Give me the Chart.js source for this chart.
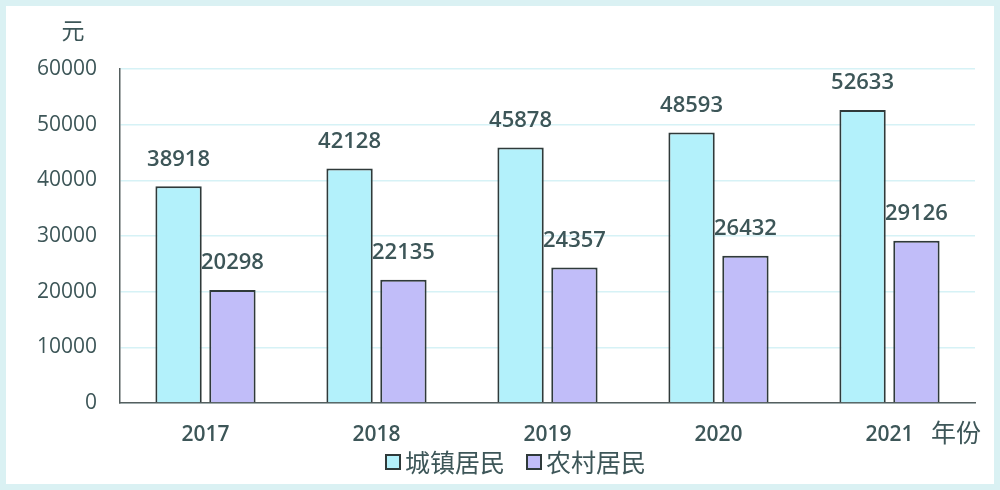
<!DOCTYPE html>
<html>
<head>
<meta charset="utf-8">
<script src="https://cdn.jsdelivr.net/npm/chart.js@4"></script>
<style>
  html, body { margin: 0; padding: 0; background: #fff; }
  #wrap { width: 1000px; height: 490px; }
</style>
</head>
<body>
<div id="wrap"><canvas id="chart" width="1000" height="490"></canvas></div>
<script>
// 城镇 / 农村 居民人均可支配收入, 2017-2021
const years = ['2017', '2018', '2019', '2020', '2021'];
const urban = [38918, 42128, 45878, 48593, 52633];
const rural = [20298, 22135, 24357, 26432, 29126];
const seriesNames = ['城镇居民', '农村居民'];
const yTicksMax = 60000;
const yTicksStep = 10000;

const textColor = '#3d5658';
const edgeColor = '#2f3a3a';
const numFont = '"Open Sans", "DejaVu Sans", sans-serif';
const cjkFont = '"Noto Sans CJK SC", sans-serif';

// frame, unit labels, legend and bar value labels
const decorPlugin = {
  id: 'decor',
  beforeDraw(chart) {
    const ctx = chart.ctx;
    ctx.save();
    ctx.fillStyle = '#ffffff';
    ctx.fillRect(0, 0, chart.width, chart.height);
    ctx.restore();
  },
  afterDraw(chart) {
    const ctx = chart.ctx;
    const area = chart.chartArea;
    ctx.save();
    ctx.strokeStyle = '#daf1f3';
    ctx.lineWidth = 6;
    ctx.strokeRect(3, 3, chart.width - 6, chart.height - 6);

    ctx.fillStyle = textColor;
    ctx.font = '23px ' + cjkFont;
    ctx.textAlign = 'center';
    ctx.textBaseline = 'middle';
    ctx.fillText('元', 73, 30);
    ctx.font = '25px ' + cjkFont;
    ctx.textAlign = 'left';
    ctx.fillText('年份', area.right - 44, area.bottom + 29);

    // legend row, boxes hugging their text
    const box = 14, gap = 5, between = 22;
    const items = chart.data.datasets.map(ds => ({
      text: ds.label, color: ds.backgroundColor, w: ctx.measureText(ds.label).width
    }));
    let total = 0;
    items.forEach((it, i) => { total += box + gap + it.w + (i ? between : 0); });
    let x = 516 - total / 2;
    const y = 462;
    items.forEach((it, i) => {
      if (i) x += between;
      ctx.fillStyle = it.color;
      ctx.fillRect(x, y - box / 2, box, box);
      ctx.strokeStyle = edgeColor;
      ctx.lineWidth = 2;
      ctx.strokeRect(x, y - box / 2, box, box);
      x += box + gap;
      ctx.fillStyle = textColor;
      ctx.fillText(it.text, x, y);
      x += it.w;
    });
    ctx.restore();
  },
  afterDatasetsDraw(chart) {
    const ctx = chart.ctx;
    ctx.save();
    ctx.fillStyle = textColor;
    ctx.font = '600 22px ' + numFont;
    ctx.textAlign = 'center';
    ctx.textBaseline = 'middle';
    chart.data.datasets.forEach((ds, di) => {
      chart.getDatasetMeta(di).data.forEach((bar, i) => {
        ctx.fillText(String(ds.data[i]), bar.x, bar.y - 27);
      });
    });
    ctx.restore();
  }
};

const chart = new Chart(document.getElementById('chart'), {
  type: 'bar',
  data: {
    labels: years,
    datasets: [
      {
        label: seriesNames[0],
        data: urban,
        backgroundColor: '#b3f1fb',
        borderColor: edgeColor,
        borderWidth: 2,
        categoryPercentage: 0.63,
        barPercentage: 0.86
      },
      {
        label: seriesNames[1],
        data: rural,
        backgroundColor: '#c1bdf9',
        borderColor: edgeColor,
        borderWidth: 2,
        categoryPercentage: 0.63,
        barPercentage: 0.86
      }
    ]
  },
  options: {
    responsive: false,
    animation: false,
    devicePixelRatio: 1,
    layout: { padding: { left: 0, right: 25, top: 69, bottom: 37 } },
    scales: {
      x: {
        grid: { display: false, drawTicks: false },
        border: { display: true, color: '#555f5f', width: 1.5 },
        ticks: { color: textColor, font: { family: numFont, size: 21, weight: '600' }, padding: 19 },
        afterFit(s) { s.height = 50; }
      },
      y: {
        min: 0,
        max: yTicksMax,
        grid: { color: '#d6f2f6', lineWidth: 1.5, drawTicks: false },
        border: { display: true, color: '#555f5f', width: 1.5 },
        ticks: {
          stepSize: yTicksStep,
          color: textColor,
          font: { family: numFont, size: 21 },
          padding: 23,
          callback: (v) => String(v)
        },
        afterFit(s) { s.width = 120; }
      }
    },
    plugins: {
      legend: { display: false },
      tooltip: { enabled: false }
    }
  },
  plugins: [decorPlugin]
});
</script>
</body>
</html>
